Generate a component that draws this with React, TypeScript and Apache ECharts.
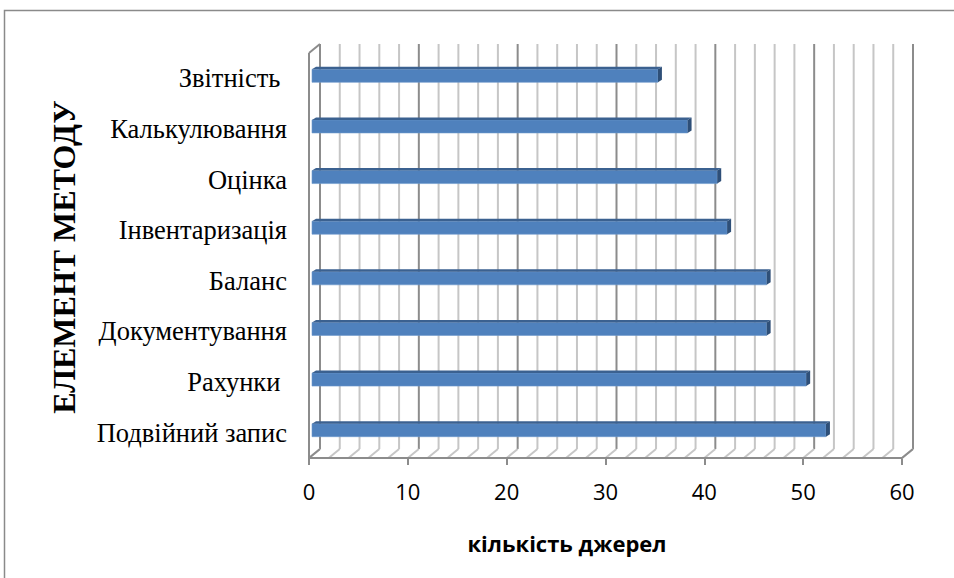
import React, { useEffect, useRef } from 'react';
import * as echarts from 'echarts';

const categories = [
  'Подвійний запис',
  'Рахунки ',
  'Документування',
  'Баланс',
  'Інвентаризація',
  'Оцінка',
  'Калькулювання',
  'Звітність ',
];
const values = [52, 50, 46, 46, 42, 41, 38, 35];
const xMin = 0;
const xMax = 60;
const xMajorStep = 10;
const xMinorStep = 2;
const xTitle = 'кількість джерел';
const yTitle = 'ЕЛЕМЕНТ МЕТОДУ';

export default function App() {
  const ref = useRef<HTMLDivElement>(null);
  useEffect(() => {
    const chart = echarts.init(ref.current!, undefined, { renderer: 'svg' });
    const DX = 11;
    const DY = -9;
    const BX = 3;
    const BY = -2.5;
    const TX = 4;
    const TY = -2.5;
    const BAR_H = 13;
    const majorColor = '#8c8c8c';
    const minorColor = '#c6c6c6';

    const frameSeries = {
      type: 'custom',
      coordinateSystem: 'cartesian2d',
      silent: true,
      z: 1,
      data: [[0, 0]],
      renderItem: (params: any, api: any) => {
        const cs = params.coordSys;
        const bottom = cs.y + cs.height;
        const children: any[] = [];
        for (let v = xMin; v <= xMax; v += xMinorStep) {
          const xf = api.coord([v, 0])[0];
          const major = v % xMajorStep === 0;
          const stroke = major ? majorColor : minorColor;
          children.push({
            type: 'line',
            shape: { x1: xf + DX, y1: cs.y + DY, x2: xf + DX, y2: bottom + DY },
            style: { stroke, lineWidth: 2 },
          });
          children.push({
            type: 'line',
            shape: { x1: xf + DX, y1: bottom + DY, x2: xf, y2: bottom },
            style: { stroke: minorColor, lineWidth: 2 },
          });
        }
        children.push({
          type: 'line',
          shape: { x1: cs.x, y1: cs.y, x2: cs.x, y2: bottom },
          style: { stroke: majorColor, lineWidth: 2 },
        });
        children.push({
          type: 'line',
          shape: { x1: cs.x, y1: cs.y, x2: cs.x + DX, y2: cs.y + DY },
          style: { stroke: majorColor, lineWidth: 2 },
        });
        children.push({
          type: 'line',
          shape: { x1: cs.x + DX, y1: bottom + DY, x2: cs.x, y2: bottom },
          style: { stroke: majorColor, lineWidth: 2 },
        });
        children.push({
          type: 'line',
          shape: { x1: cs.x + cs.width + DX, y1: bottom + DY, x2: cs.x + cs.width, y2: bottom },
          style: { stroke: majorColor, lineWidth: 2 },
        });
        children.push({
          type: 'line',
          shape: { x1: cs.x, y1: bottom, x2: cs.x + cs.width, y2: bottom },
          style: { stroke: majorColor, lineWidth: 2 },
        });
        return { type: 'group', children };
      },
    };

    const barSeries = {
      type: 'custom',
      coordinateSystem: 'cartesian2d',
      z: 5,
      data: values.map((v, i) => [v, i]),
      encode: { x: 0, y: 1 },
      renderItem: (params: any, api: any) => {
        const v = api.value(0);
        const i = api.value(1);
        const p0 = api.coord([0, i]);
        const p1 = api.coord([v, i]);
        const fx0 = p0[0] + BX;
        const fx1 = p1[0] + BX;
        const yt = p0[1] + BY - BAR_H / 2;
        const yb = yt + BAR_H;
        return {
          type: 'group',
          children: [
            {
              type: 'rect',
              shape: { x: fx0, y: yt, width: fx1 - fx0, height: BAR_H },
              style: { fill: '#4f81bd', stroke: '#6d98cc', lineWidth: 0.6 },
            },
            {
              type: 'polygon',
              shape: { points: [[fx0, yt], [fx0 + TX, yt + TY], [fx1 + TX, yt + TY], [fx1, yt]] },
              style: { fill: '#3b6190' },
            },
            {
              type: 'polygon',
              shape: { points: [[fx1, yt], [fx1 + TX, yt + TY], [fx1 + TX, yb + TY], [fx1, yb]] },
              style: { fill: '#2e4f78' },
            },
          ],
        };
      },
    };

    chart.setOption({
      animation: false,
      backgroundColor: '#ffffff',
      grid: { left: 309, top: 53, width: 593, height: 405, containLabel: false },
      xAxis: {
        type: 'value',
        min: xMin,
        max: xMax,
        interval: xMajorStep,
        axisLine: { show: false },
        axisTick: { show: true, length: 7, lineStyle: { color: majorColor, width: 2 } },
        splitLine: { show: false },
        axisLabel: { fontFamily: 'Open Sans', fontSize: 22, color: '#000', margin: 22 },
      },
      yAxis: {
        type: 'category',
        data: categories,
        axisLine: { show: false },
        axisTick: { show: false },
        splitLine: { show: false },
        axisLabel: { fontFamily: 'Liberation Serif', fontSize: 26.5, color: '#000', margin: 22 },
      },
      graphic: [
        {
          type: 'rect',
          z: -10,
          silent: true,
          shape: { x: 4.5, y: 10.5, width: 1200, height: 1200 },
          style: { fill: 'none', stroke: '#8a8a8a', lineWidth: 1.5 },
        },
        {
          type: 'text',
          x: 64,
          y: 257,
          rotation: Math.PI / 2,
          style: {
            text: yTitle,
            fontFamily: 'Liberation Serif',
            fontWeight: 'bold',
            fontSize: 32,
            fill: '#000',
            textAlign: 'center',
            textVerticalAlign: 'middle',
            align: 'center',
            verticalAlign: 'middle',
          },
        },
        {
          type: 'text',
          x: 567,
          y: 543,
          style: {
            text: xTitle,
            fontFamily: 'Open Sans',
            fontWeight: 'bold',
            fontSize: 22,
            fill: '#000',
            textAlign: 'center',
            textVerticalAlign: 'middle',
            align: 'center',
            verticalAlign: 'middle',
          },
        },
      ],
      series: [frameSeries, barSeries],
    });
    return () => chart.dispose();
  }, []);
  return (
    <div
      ref={ref}
      style={{ position: 'absolute', left: 0, top: 0, width: 954, height: 578 }}
    />
  );
}
